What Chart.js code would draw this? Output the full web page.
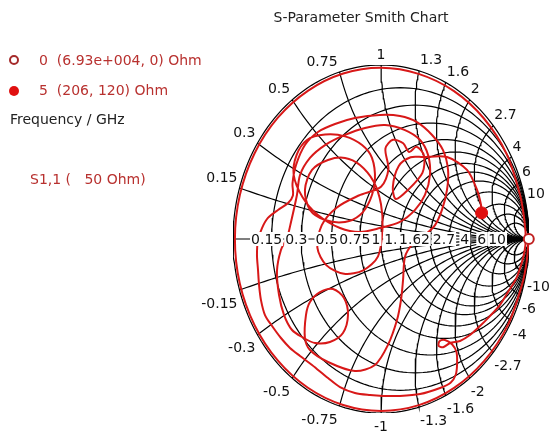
<!DOCTYPE html>
<html>
<head>
<meta charset="utf-8">
<script src="https://cdn.jsdelivr.net/npm/chart.js@4.4.0/dist/chart.umd.min.js"></script>
<style>
  html, body { margin: 0; padding: 0; background: #fff; }
  canvas { display: block; }
</style>
</head>
<body>
<canvas id="smith" width="549" height="436"></canvas>
<script>
// grid values (normalised to 50 Ohm)
const resistanceTicks = [0.15, 0.3, 0.5, 0.75, 1, 1.3, 1.6, 2, 2.7, 4, 6, 10];
const reactanceTicks = [0.15, 0.3, 0.5, 0.75, 1, 1.3, 1.6, 2, 2.7, 4, 6, 10];
const z0 = 50;

// markers: frequency (GHz), R and X in Ohm
const markerFreq = [0, 5];
const markerR = [69300, 206];
const markerX = [0, 120];
const markerLabels = ["0  (6.93e+004, 0) Ohm", "5  (206, 120) Ohm"];

// S1,1 trace, reflection coefficient
const s11Re = [0.998, 0.984, 0.955, 0.857, 0.699, 0.494, 0.256, 0.000, -0.256, -0.494, -0.698, -0.855, -0.954, -0.987,
  -0.953, -0.854, -0.697, -0.492, -0.255, 0.000, 0.254, 0.491, 0.694, 0.848, 0.940, 0.970, 0.978,
  0.970, 0.950, 0.915, 0.858, 0.804, 0.736, 0.669, 0.601, 0.534, 0.466, 0.420, 0.390, 0.395, 0.432, 0.480, 0.510,
  0.514, 0.505, 0.470, 0.399, 0.264, 0.128, 0.014, -0.074, -0.176, -0.277, -0.358, -0.466, -0.547, -0.615, -0.676,
  -0.736, -0.784, -0.811, -0.824, -0.831, -0.838, -0.831, -0.804, -0.764, -0.696, -0.628, -0.595, -0.598, -0.574,
  -0.514, -0.426, -0.311, -0.176, -0.007, 0.128, 0.243, 0.345, 0.419, 0.453, 0.446, 0.412, 0.365, 0.297,
  0.209, 0.162, 0.149, 0.135, 0.108, 0.047, -0.041, -0.176, -0.358, -0.480, -0.514, -0.507, -0.480, -0.412, -0.324,
  -0.250, -0.223, -0.257, -0.345, -0.446, -0.530, -0.601, -0.655, -0.689, -0.703, -0.676, -0.635, -0.608, -0.568,
  -0.547, -0.480, -0.378, -0.243, -0.108, 0.027, 0.162, 0.264, 0.318, 0.331, 0.297, 0.230, 0.128,
  -0.007, -0.142, -0.277, -0.426, -0.530, -0.590, -0.570, -0.500, -0.378, -0.243, -0.128, -0.061, -0.041, -0.074,
  -0.142, -0.243, -0.378, -0.480, -0.514, -0.466, -0.358, -0.243, -0.142, -0.050, 0.000, 0.010, -0.020, -0.120,
  -0.250, -0.370, -0.430, -0.400, -0.300, -0.150, 0.000, 0.050, 0.030, 0.080, 0.150, 0.190, 0.240, 0.290, 0.280,
  0.180, 0.100, 0.080, 0.120, 0.200, 0.284, 0.446, 0.581, 0.649, 0.676, 0.680];
const s11Im = [0.000, -0.130, -0.256, -0.495, -0.699, -0.856, -0.955, -0.988, -0.954, -0.855, -0.698, -0.494, -0.256, 0.000,
  0.255, 0.493, 0.697, 0.853, 0.951, 0.984, 0.949, 0.851, 0.694, 0.490, 0.252, 0.100, 0.000,
  -0.070, -0.140, -0.225, -0.305, -0.379, -0.443, -0.500, -0.552, -0.586, -0.598, -0.622, -0.615, -0.588, -0.580, -0.605, -0.650,
  -0.720, -0.780, -0.826, -0.856, -0.891, -0.902, -0.902, -0.897, -0.885, -0.851, -0.799, -0.724, -0.672, -0.626, -0.569,
  -0.500, -0.437, -0.351, -0.264, -0.178, -0.092, -0.006, 0.063, 0.121, 0.167, 0.207, 0.250, 0.320, 0.425,
  0.540, 0.615, 0.661, 0.695, 0.713, 0.707, 0.672, 0.598, 0.511, 0.397, 0.282, 0.167, 0.080, 0.023,
  -0.034, -0.103, -0.236, -0.351, -0.466, -0.609, -0.724, -0.759, -0.707, -0.638, -0.569, -0.437, -0.362, -0.305, -0.287,
  -0.339, -0.437, -0.540, -0.592, -0.598, -0.565, -0.523, -0.437, -0.322, -0.184, -0.063, 0.006, 0.098, 0.253,
  0.368, 0.466, 0.540, 0.598, 0.638, 0.655, 0.626, 0.569, 0.483, 0.368, 0.253, 0.167, 0.098,
  0.063, 0.040, 0.063, 0.138, 0.240, 0.368, 0.483, 0.569, 0.600, 0.590, 0.540, 0.466, 0.339, 0.224,
  0.138, 0.098, 0.109, 0.167, 0.282, 0.397, 0.454, 0.466, 0.425, 0.330, 0.200, 0.060, -0.100, -0.180,
  -0.200, -0.150, -0.050, 0.080, 0.180, 0.250, 0.300, 0.400, 0.520, 0.570, 0.550, 0.500, 0.530, 0.480, 0.380,
  0.280, 0.230, 0.300, 0.420, 0.470, 0.471, 0.471, 0.397, 0.282, 0.195, 0.150];

const traceColor = "#d81818";
const textRed = "#b8312f";

function resistanceCircle(r) {
  const c = r / (1 + r), rad = 1 / (1 + r);
  const pts = [];
  for (let i = 0; i <= 180; i++) {
    const t = i / 180 * 2 * Math.PI;
    pts.push({ x: c + rad * Math.cos(t), y: rad * Math.sin(t) });
  }
  return pts;
}

function reactanceEnd(x) {
  return { x: (x * x - 1) / (x * x + 1), y: 2 * x / (x * x + 1) };
}

function reactanceArc(x) {
  const ax = Math.abs(x), s = Math.sign(x);
  const e = reactanceEnd(ax);
  const a0 = -Math.PI / 2;
  let a1 = Math.atan2(e.y - 1 / ax, e.x - 1);
  if (a1 > a0) a1 -= 2 * Math.PI;
  const pts = [];
  for (let i = 0; i <= 80; i++) {
    const t = a0 + (a1 - a0) * i / 80;
    pts.push({ x: 1 + Math.cos(t) / ax, y: s * (1 / ax + Math.sin(t) / ax) });
  }
  return pts;
}

function gamma(r, x) {
  // (Z - Z0) / (Z + Z0)
  const a = r - z0, b = x, c = r + z0, d = x;
  const den = c * c + d * d;
  return { x: (a * c + b * d) / den, y: (b * c - a * d) / den };
}

const gridSets = [];
[0].concat(resistanceTicks).forEach(r => {
  gridSets.push({ data: resistanceCircle(r) });
});
reactanceTicks.forEach(x => {
  gridSets.push({ data: reactanceArc(x) });
  gridSets.push({ data: reactanceArc(-x) });
});
gridSets.push({ data: [{ x: -1, y: 0 }, { x: 1, y: 0 }] });

const gridDatasets = gridSets.map(g => ({
  data: g.data,
  showLine: true,
  borderColor: "#000",
  borderWidth: 1.2,
  pointRadius: 0,
  tension: 0,
  order: 10
}));

const traceData = s11Re.map((v, i) => ({ x: v, y: s11Im[i] }));
const startPt = gamma(markerR[0], markerX[0]);
const endPt = gamma(markerR[1], markerX[1]);

const fmt = v => String(v);

const labelPlugin = {
  id: "smithLabels",
  afterDraw(chart) {
    const ctx = chart.ctx;
    const sx = chart.scales.x, sy = chart.scales.y;
    const px = v => sx.getPixelForValue(v);
    const py = v => sy.getPixelForValue(v);
    ctx.save();

    // title
    ctx.fillStyle = "#222";
    ctx.font = "14px 'DejaVu Sans'";
    ctx.textAlign = "center";
    ctx.textBaseline = "middle";
    ctx.fillText("S-Parameter Smith Chart", 361, 18);

    // reactance labels round the edge
    ctx.fillStyle = "#111";
    reactanceTicks.forEach(x => {
      [1, -1].forEach(s => {
        const e = reactanceEnd(x);
        const ex = px(e.x), ey = py(s * e.y);
        let align = "center", dx = 0;
        if (e.x < -0.05) { align = "right"; dx = -2; }
        else if (e.x > 0.05) { align = "left"; dx = 1; }
        ctx.textAlign = align;
        ctx.fillText((s < 0 ? "-" : "") + fmt(x), ex + dx, ey + (s > 0 ? -10 : 14));
      });
    });

    // resistance labels on the real axis
    const y0 = py(0);
    resistanceTicks.forEach(r => {
      const cx = px((r - 1) / (r + 1)) - 5;
      const txt = fmt(r);
      const w = ctx.measureText(txt).width;
      ctx.fillStyle = "#fff";
      ctx.fillRect(cx - w / 2 - 1, y0 - 7, w + 2, 14);
      ctx.fillStyle = "#111";
      ctx.textAlign = "center";
      ctx.fillText(txt, cx, y0 + 1);
    });

    // legend
    ctx.textAlign = "left";
    ctx.lineWidth = 2;
    ctx.strokeStyle = "#a52a2a";
    ctx.fillStyle = "#fff";
    ctx.beginPath(); ctx.arc(14, 60, 4, 0, 2 * Math.PI); ctx.fill(); ctx.stroke();
    ctx.fillStyle = "#e01010";
    ctx.beginPath(); ctx.arc(14, 91, 5, 0, 2 * Math.PI); ctx.fill();
    ctx.fillStyle = textRed;
    ctx.fillText(markerLabels[0], 39, 61);
    ctx.fillText(markerLabels[1], 39, 91);
    ctx.fillStyle = "#222";
    ctx.fillText("Frequency / GHz", 10, 120);
    ctx.fillStyle = textRed;
    ctx.fillText("S1,1 (   50 Ohm)", 30, 180);
    ctx.restore();
  }
};

new Chart(document.getElementById("smith").getContext("2d"), {
  type: "scatter",
  data: {
    datasets: [
      {
        data: [endPt],
        pointRadius: 6,
        pointBackgroundColor: "#e01010",
        pointBorderColor: "#e01010",
        clip: false,
        order: 0
      },
      {
        data: [startPt],
        pointRadius: 5,
        pointBackgroundColor: "#fff",
        pointBorderColor: "#c02020",
        pointBorderWidth: 2,
        clip: false,
        order: 0
      },
      {
        data: traceData,
        showLine: true,
        borderColor: traceColor,
        borderWidth: 2,
        pointRadius: 0,
        tension: 0.3,
        clip: false,
        order: 1
      }
    ].concat(gridDatasets)
  },
  options: {
    responsive: false,
    animation: false,
    layout: { padding: { left: 233, right: 20, top: 65, bottom: 23 } },
    plugins: { legend: { display: false }, tooltip: { enabled: false }, title: { display: false } },
    scales: {
      x: { type: "linear", min: -1, max: 1, display: false },
      y: { type: "linear", min: -1, max: 1, display: false }
    }
  },
  plugins: [labelPlugin]
});
</script>
</body>
</html>
